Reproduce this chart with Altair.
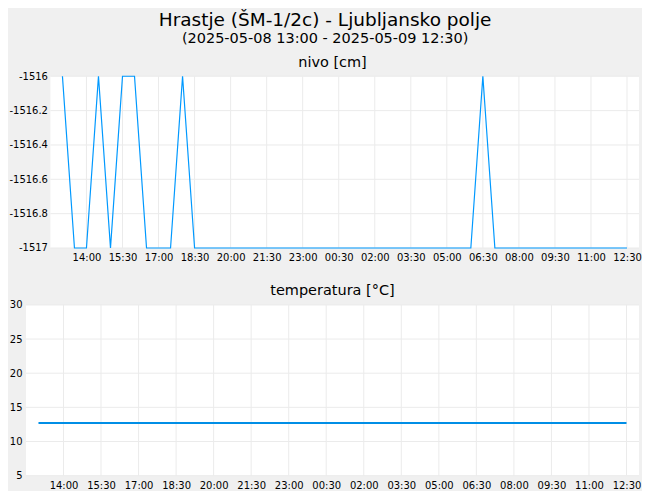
import altair as alt
import pandas as pd

# 30-minute sampling times
times = [
    "2025-05-08T13:00:00Z", "2025-05-08T13:30:00Z", "2025-05-08T14:00:00Z", "2025-05-08T14:30:00Z",
    "2025-05-08T15:00:00Z", "2025-05-08T15:30:00Z", "2025-05-08T16:00:00Z", "2025-05-08T16:30:00Z",
    "2025-05-08T17:00:00Z", "2025-05-08T17:30:00Z", "2025-05-08T18:00:00Z", "2025-05-08T18:30:00Z",
    "2025-05-08T19:00:00Z", "2025-05-08T19:30:00Z", "2025-05-08T20:00:00Z", "2025-05-08T20:30:00Z",
    "2025-05-08T21:00:00Z", "2025-05-08T21:30:00Z", "2025-05-08T22:00:00Z", "2025-05-08T22:30:00Z",
    "2025-05-08T23:00:00Z", "2025-05-08T23:30:00Z",
    "2025-05-09T00:00:00Z", "2025-05-09T00:30:00Z", "2025-05-09T01:00:00Z", "2025-05-09T01:30:00Z",
    "2025-05-09T02:00:00Z", "2025-05-09T02:30:00Z", "2025-05-09T03:00:00Z", "2025-05-09T03:30:00Z",
    "2025-05-09T04:00:00Z", "2025-05-09T04:30:00Z", "2025-05-09T05:00:00Z", "2025-05-09T05:30:00Z",
    "2025-05-09T06:00:00Z", "2025-05-09T06:30:00Z", "2025-05-09T07:00:00Z", "2025-05-09T07:30:00Z",
    "2025-05-09T08:00:00Z", "2025-05-09T08:30:00Z", "2025-05-09T09:00:00Z", "2025-05-09T09:30:00Z",
    "2025-05-09T10:00:00Z", "2025-05-09T10:30:00Z", "2025-05-09T11:00:00Z", "2025-05-09T11:30:00Z",
    "2025-05-09T12:00:00Z", "2025-05-09T12:30:00Z",
]

nivo = [
    -1516, -1517, -1517, -1516, -1517, -1516, -1516, -1517, -1517, -1517, -1516, -1517,
    -1517, -1517, -1517, -1517, -1517, -1517, -1517, -1517, -1517, -1517,
    -1517, -1517, -1517, -1517, -1517, -1517, -1517, -1517, -1517, -1517, -1517, -1517,
    -1517, -1516, -1517, -1517, -1517, -1517, -1517, -1517, -1517, -1517, -1517, -1517,
    -1517, -1517,
]

temperatura = [
    12.7, 12.7, 12.7, 12.7, 12.7, 12.7, 12.7, 12.7, 12.7, 12.7, 12.7, 12.7,
    12.7, 12.7, 12.7, 12.7, 12.7, 12.7, 12.7, 12.7, 12.7, 12.7,
    12.7, 12.7, 12.7, 12.7, 12.7, 12.7, 12.7, 12.7, 12.7, 12.7, 12.7, 12.7,
    12.7, 12.7, 12.7, 12.7, 12.7, 12.7, 12.7, 12.7, 12.7, 12.7, 12.7, 12.7,
    12.7, 12.7,
]

tick_times = [
    "2025-05-08T14:00:00Z", "2025-05-08T15:30:00Z", "2025-05-08T17:00:00Z", "2025-05-08T18:30:00Z",
    "2025-05-08T20:00:00Z", "2025-05-08T21:30:00Z", "2025-05-08T23:00:00Z", "2025-05-09T00:30:00Z",
    "2025-05-09T02:00:00Z", "2025-05-09T03:30:00Z", "2025-05-09T05:00:00Z", "2025-05-09T06:30:00Z",
    "2025-05-09T08:00:00Z", "2025-05-09T09:30:00Z", "2025-05-09T11:00:00Z", "2025-05-09T12:30:00Z",
]
# visible time frame of both panels
frame = ["2025-05-08T12:30:00Z", "2025-05-09T13:00:00Z"]

nivo_ticks = [-1517, -1516.8, -1516.6, -1516.4, -1516.2, -1516]
nivo_range = [-1517, -1516]
temp_ticks = [5, 10, 15, 20, 25, 30]
temp_range = [5, 30]


def ms(s):
    return int(pd.Timestamp(s).timestamp() * 1000)


FONT = "DejaVu Sans"
GRID = "#ebebeb"
W = 614          # width of the shared column
TOP_INSET = 24.5  # the upper panel's plot frame starts this far right of the column

# the upper panel's scale starts earlier so that its frame begins TOP_INSET px in
span = ms(frame[1]) - ms(frame[0])
top_scale_start = ms(frame[0]) - span * TOP_INSET / (W - TOP_INSET)

df_n = pd.DataFrame({"t": [ms(t) for t in times], "v": nivo})
df_t = pd.DataFrame({"t": [ms(t) for t in times], "v": temperatura})
tick_ms = [ms(t) for t in tick_times]


def panel(df, ticks, yrange, x_start, height, title, color, sw, y_offset, y_pad):
    xs = alt.Scale(type="utc", domain=[x_start, ms(frame[1])])
    ys = alt.Scale(domain=yrange, nice=False, zero=False)
    xa = alt.Axis(
        values=tick_ms, labelExpr="utcFormat(datum.value, '%H:%M')",
        title=None, domain=False, ticks=False, grid=False,
        labelFont=FONT, labelFontSize=10, labelColor="#000000",
        labelPadding=5, labelFlush=False, labelOverlap=False,
    )
    ya = alt.Axis(
        values=ticks, labelExpr="toString(datum.value)",
        title=None, domain=False, ticks=False, grid=False, offset=y_offset,
        labelFont=FONT, labelFontSize=10, labelColor="#000000", labelPadding=y_pad,
    )
    bg_df = pd.DataFrame({"x1": [ms(frame[0])], "x2": [ms(frame[1])],
                          "y1": [yrange[0]], "y2": [yrange[1]]})
    bg = alt.Chart(bg_df).mark_rect(fill="white").encode(
        x=alt.X("x1:T", scale=xs, axis=xa), x2="x2:T",
        y=alt.Y("y1:Q", scale=ys, axis=ya), y2="y2:Q",
    )
    hgrid_df = pd.DataFrame({"y": ticks, "x1": ms(frame[0]), "x2": ms(frame[1])})
    hgrid = alt.Chart(hgrid_df).mark_rule(color=GRID, strokeWidth=1).encode(
        x=alt.X("x1:T", scale=xs, axis=xa), x2="x2:T",
        y=alt.Y("y:Q", scale=ys, axis=ya),
    )
    vgrid_df = pd.DataFrame({"t": tick_ms, "y1": yrange[0], "y2": yrange[1]})
    vgrid = alt.Chart(vgrid_df).mark_rule(color=GRID, strokeWidth=1).encode(
        x=alt.X("t:T", scale=xs, axis=xa),
        y=alt.Y("y1:Q", scale=ys, axis=ya), y2="y2:Q",
    )
    line = alt.Chart(df).mark_line(color=color, strokeWidth=sw).encode(
        x=alt.X("t:T", scale=xs, axis=xa),
        y=alt.Y("v:Q", scale=ys, axis=ya),
    )
    return alt.layer(bg, hgrid, vgrid, line).properties(
        width=W, height=height,
        title=alt.TitleParams(title, font=FONT, fontSize=14.5, fontWeight="normal",
                              color="#000000", offset=1),
    )


top = panel(df_n, nivo_ticks, nivo_range, top_scale_start, 172, "nivo [cm]",
            "#0099ff", 1.2, -TOP_INSET, 3)
bottom = panel(df_t, temp_ticks, temp_range, ms(frame[0]), 171, "temperatura [°C]",
               "#008ee6", 2, 0, 4)

chart = alt.vconcat(top, bottom, spacing=20).properties(
    title=alt.TitleParams(
        "Hrastje (ŠM-1/2c) - Ljubljansko polje",
        subtitle="(2025-05-08 13:00 - 2025-05-09 12:30)",
        font=FONT, fontSize=18.5, fontWeight="normal", color="#000000",
        subtitleFont=FONT, subtitleFontSize=14.5, subtitleColor="#000000",
        anchor="middle", offset=9, subtitlePadding=2.5,
    ),
    padding={"left": 0, "top": 3, "right": 0, "bottom": 0},
    background="#f0f0f0",
).configure_view(strokeWidth=0, fill="#f0f0f0")

chart.save("out.html", embed_options={"renderer": "svg", "actions": False})
